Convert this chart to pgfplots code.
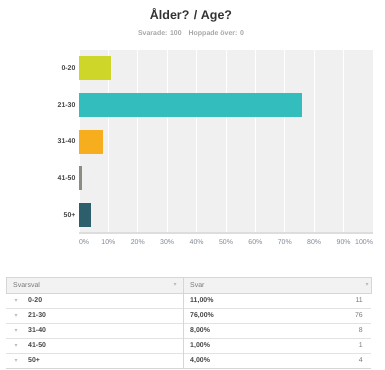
\documentclass[border=0pt]{standalone}
\usepackage{pgfplots}
\pgfplotsset{compat=1.18}
\usepackage{fontspec}
\setmainfont{Liberation Sans}
\newfontfamily\dejavu{DejaVu Sans}
\definecolor{c1}{HTML}{CFD62A}
\definecolor{c2}{HTML}{33BDBD}
\definecolor{c3}{HTML}{F7AE1E}
\definecolor{c4}{HTML}{8C8C80}
\definecolor{c5}{HTML}{2D5E6B}
\definecolor{bgc}{HTML}{F0F0F0}
\definecolor{titlec}{HTML}{333333}
\definecolor{subc}{HTML}{A6A6A6}
\definecolor{tickc}{HTML}{7F8590}
\definecolor{ylab}{HTML}{444444}
\definecolor{axisc}{HTML}{DDDDDD}
\definecolor{hdr}{HTML}{F2F2F2}
\definecolor{border}{HTML}{D6D6D6}
\definecolor{rowline}{HTML}{E2E2E2}
\definecolor{hdrtext}{HTML}{777777}
\definecolor{celltext}{HTML}{444444}
\definecolor{arrowc}{HTML}{BBBBBB}
\begin{document}
\begin{tikzpicture}[x=1bp,y=1bp]
\useasboundingbox (0,0) rectangle (385,-370);
\node[font=\fontsize{12.5}{15}\selectfont\bfseries, text=titlec] at (191,-15) {Ålder? / Age?};
\node[font=\fontsize{7}{8}\selectfont\bfseries, text=subc] at (191,-34) {Svarade: 100\hspace{7bp}Hoppade över: 0};
\begin{axis}[
  at={(79bp,-50bp)}, anchor=north west,
  width=294bp, height=183bp, scale only axis,
  xbar, y dir=reverse,
  xmin=0, xmax=100, ymin=-0.5, ymax=4.5,
  bar width=24bp,
  axis background/.style={fill=bgc},
  xmajorgrids, grid style={white, line width=1bp},
  axis x line*=bottom, axis y line*=left,
  x axis line style={-, draw=axisc, line width=1.5bp},
  y axis line style={draw=none},
  major tick length=0pt,
  xtick={0,10,...,100},
  xticklabels={\hphantom{0\%}0\%,10\%,20\%,30\%,40\%,50\%,60\%,70\%,80\%,90\%,100\%\hphantom{100\%}},
  ytick={0,1,2,3,4},
  yticklabels={0-20,21-30,31-40,41-50,50+},
  xticklabel style={font=\fontsize{7}{8}\selectfont, text=tickc, yshift=-3bp},
  yticklabel style={font=\fontsize{7}{8}\selectfont\bfseries, text=ylab},
  clip=false,
]
\addplot[fill=c1, draw=none, bar shift=0pt] coordinates {(11,0)};
\addplot[fill=c2, draw=none, bar shift=0pt] coordinates {(76,1)};
\addplot[fill=c3, draw=none, bar shift=0pt] coordinates {(8,2)};
\addplot[fill=c4, draw=none, bar shift=0pt] coordinates {(1,3)};
\addplot[fill=c5, draw=none, bar shift=0pt] coordinates {(4,4)};
\end{axis}
% table
\fill[hdr] (6,-277) rectangle (371,-293);
\draw[border, line width=0.7bp] (6,-277) rectangle (371,-293);
\foreach \y in {308,323,338,353} \draw[rowline, line width=0.7bp] (6,-\y) -- (371,-\y);
\draw[border, line width=1.2bp] (6,-368.5) -- (371,-368.5);
\draw[border, line width=0.7bp] (183,-277) -- (183,-368);
\begin{scope}[every node/.style={font=\fontsize{7}{8}\selectfont, inner sep=0pt}]
\node[anchor=west, text=hdrtext] at (13,-285) {Svarsval};
\node[anchor=west, text=hdrtext] at (190,-285) {Svar};
\node[text=arrowc, font=\dejavu\fontsize{6}{7}\selectfont] at (175,-285) {▾};
\node[text=arrowc, font=\dejavu\fontsize{6}{7}\selectfont] at (367,-285) {▾};
\foreach \y in {300.5,315.5,330.5,345.5,360.5} \node[text=arrowc, font=\dejavu\fontsize{6}{7}\selectfont] at (16,-\y) {▾};
\node[anchor=west, text=celltext, font=\fontsize{7}{8}\selectfont\bfseries] at (28,-300.5) {0-20};
\node[anchor=west, text=celltext, font=\fontsize{7}{8}\selectfont\bfseries] at (28,-315.5) {21-30};
\node[anchor=west, text=celltext, font=\fontsize{7}{8}\selectfont\bfseries] at (28,-330.5) {31-40};
\node[anchor=west, text=celltext, font=\fontsize{7}{8}\selectfont\bfseries] at (28,-345.5) {41-50};
\node[anchor=west, text=celltext, font=\fontsize{7}{8}\selectfont\bfseries] at (28,-360.5) {50+};
\node[anchor=west, text=celltext, font=\fontsize{7}{8}\selectfont\bfseries] at (190,-300.5) {11,00\%};
\node[anchor=west, text=celltext, font=\fontsize{7}{8}\selectfont\bfseries] at (190,-315.5) {76,00\%};
\node[anchor=west, text=celltext, font=\fontsize{7}{8}\selectfont\bfseries] at (190,-330.5) {8,00\%};
\node[anchor=west, text=celltext, font=\fontsize{7}{8}\selectfont\bfseries] at (190,-345.5) {1,00\%};
\node[anchor=west, text=celltext, font=\fontsize{7}{8}\selectfont\bfseries] at (190,-360.5) {4,00\%};
\node[anchor=east, text=hdrtext] at (363,-300.5) {11};
\node[anchor=east, text=hdrtext] at (363,-315.5) {76};
\node[anchor=east, text=hdrtext] at (363,-330.5) {8};
\node[anchor=east, text=hdrtext] at (363,-345.5) {1};
\node[anchor=east, text=hdrtext] at (363,-360.5) {4};
\end{scope}
\end{tikzpicture}
\end{document}
